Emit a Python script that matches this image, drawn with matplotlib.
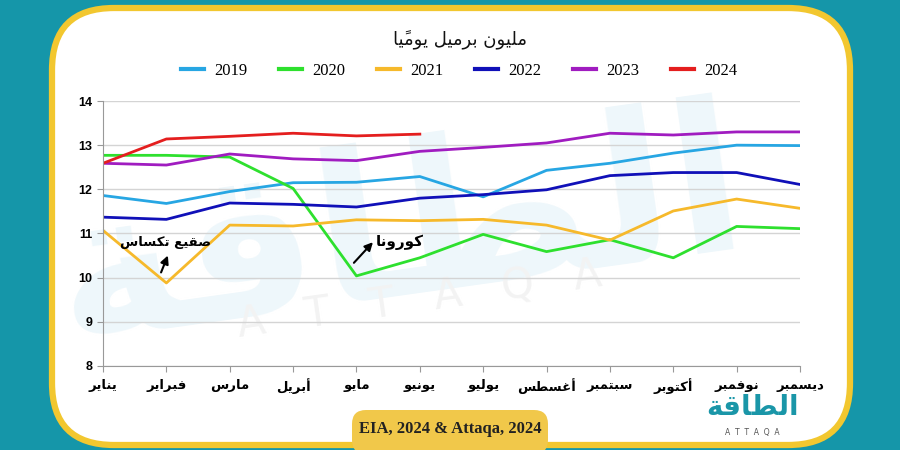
import matplotlib
matplotlib.use("Agg")
import matplotlib.pyplot as plt
from matplotlib.patches import FancyBboxPatch

# data (million barrels per day)
months = ["يناير", "فبراير", "مارس", "أبريل", "مايو", "يونيو",
          "يوليو", "أغسطس", "سبتمبر", "أكتوبر", "نوفمبر", "ديسمبر"]
years = ["2019", "2020", "2021", "2022", "2023", "2024"]
y2019 = [11.86, 11.68, 11.95, 12.15, 12.16, 12.29, 11.83, 12.43, 12.59, 12.82, 13.00, 12.99]
y2020 = [12.77, 12.77, 12.73, 12.02, 10.04, 10.45, 10.98, 10.59, 10.86, 10.45, 11.16, 11.11]
y2021 = [11.07, 9.88, 11.19, 11.17, 11.31, 11.29, 11.32, 11.19, 10.85, 11.51, 11.78, 11.57]
y2022 = [11.37, 11.32, 11.69, 11.66, 11.60, 11.80, 11.88, 11.99, 12.31, 12.38, 12.38, 12.11]
y2023 = [12.59, 12.55, 12.80, 12.69, 12.65, 12.86, 12.95, 13.05, 13.27, 13.23, 13.30, 13.30]
y2024 = [12.59, 13.14, 13.20, 13.27, 13.21, 13.25]
series = [y2019, y2020, y2021, y2022, y2023, y2024]
colors = ["#27a6e3", "#2ee02e", "#f6b92b", "#1010b8", "#a01cc0", "#e41e1e"]

title = "مليون برميل يوميًا"
note_texas = "صقيع تكساس"
note_corona = "كورونا"
source = "EIA, 2024 & Attaqa, 2024"

# --- tiny arabic shaper (matplotlib has no complex text layout) ---
BASE = {'ء': 0xFE80, 'آ': 0xFE81, 'أ': 0xFE83, 'ؤ': 0xFE85, 'إ': 0xFE87, 'ئ': 0xFE89,
        'ا': 0xFE8D, 'ب': 0xFE8F, 'ة': 0xFE93, 'ت': 0xFE95, 'ث': 0xFE99, 'ج': 0xFE9D,
        'ح': 0xFEA1, 'خ': 0xFEA5, 'د': 0xFEA9, 'ذ': 0xFEAB, 'ر': 0xFEAD, 'ز': 0xFEAF,
        'س': 0xFEB1, 'ش': 0xFEB5, 'ص': 0xFEB9, 'ض': 0xFEBD, 'ط': 0xFEC1, 'ظ': 0xFEC5,
        'ع': 0xFEC9, 'غ': 0xFECD, 'ف': 0xFED1, 'ق': 0xFED5, 'ك': 0xFED9, 'ل': 0xFEDD,
        'م': 0xFEE1, 'ن': 0xFEE5, 'ه': 0xFEE9, 'و': 0xFEED, 'ى': 0xFEEF, 'ي': 0xFEF1}
DUAL = "بتثجحخسشصضطظعغفقكلمنهيئ"


def is_mark(c):
    return '\u064B' <= c <= '\u0652'


def ar(text):
    chars = list(text)
    out = []
    for i, c in enumerate(chars):
        if c not in BASE:
            out.append(c)
            continue
        j = i - 1
        while j >= 0 and is_mark(chars[j]):
            j -= 1
        k = i + 1
        while k < len(chars) and is_mark(chars[k]):
            k += 1
        prev = j >= 0 and chars[j] in DUAL
        nxt = c in DUAL and k < len(chars) and chars[k] in BASE and chars[k] != 'ء'
        b = BASE[c]
        if prev and nxt:
            out.append(chr(b + 3))
        elif prev:
            out.append(chr(b + 1))
        elif nxt:
            out.append(chr(b + 2))
        else:
            out.append(chr(b))
    clusters = []
    for c in out:
        if is_mark(c) and clusters:
            clusters[-1] += c
        else:
            clusters.append(c)
    return "".join(reversed(clusters))


fig = plt.figure(figsize=(9, 4.5), dpi=100)
fig.patch.set_facecolor("#1596a9")

# background card
bg = fig.add_axes([0, 0, 1, 1], zorder=0)
bg.set_xlim(0, 900)
bg.set_ylim(450, 0)
bg.axis("off")
bg.add_patch(FancyBboxPatch((52, 8), 798, 437, boxstyle="round,pad=0,rounding_size=62",
                            fc="white", ec="#f2c72f", lw=4.5))
# faint watermark
bg.text(400, 235, ar("الطاقة"), ha="center", va="center", fontsize=150, fontweight="bold",
        family="DejaVu Sans", color="#eef7fb", rotation=8)
bg.text(420, 300, "A   T   T   A   Q   A", ha="center", va="center", fontsize=30,
        color="#f3f3f3", rotation=8)
bg.add_patch(FancyBboxPatch((352, 410), 196, 44, boxstyle="round,pad=0,rounding_size=14",
                            fc="#f1c84a", ec="none"))
bg.text(450, 429, source, ha="center", va="center", fontsize=12, fontweight="bold",
        family="Liberation Serif", color="#222222")
bg.text(752, 407, ar("الطاقة"), ha="center", va="center", fontsize=20, fontweight="bold",
        family="DejaVu Sans", color="#1a96a8")
bg.text(752, 432, "A  T  T  A  Q  A", ha="center", va="center", fontsize=5.5,
        color="#555555")
bg.text(460, 40, ar(title), ha="center", va="center", fontsize=13,
        family="DejaVu Sans", color="#111111")

ax = fig.add_axes([103 / 900, 84 / 450, 697 / 900, 265 / 450], zorder=1)
ax.set_facecolor("none")

x = list(range(len(months)))
lines = []
for yr, vals, col in zip(years, series, colors):
    ln, = ax.plot(x[:len(vals)], vals, color=col, lw=2, label=yr)
    lines.append(ln)

ax.set_xlim(0, 11)
ax.set_ylim(8, 14)
ax.set_yticks(range(8, 15))
ax.set_xticks(x)
ax.set_xticklabels([ar(m) for m in months], fontsize=9.5, fontweight="bold",
                   family="DejaVu Sans")
for lab in ax.get_yticklabels():
    lab.set_fontweight("bold")
    lab.set_fontsize(9)
    lab.set_family("Liberation Sans")
ax.grid(axis="y", color="#d4d4d4", lw=1)
ax.set_axisbelow(True)
for s in ["top", "right"]:
    ax.spines[s].set_visible(False)
for s in ["left", "bottom"]:
    ax.spines[s].set_color("#999999")
ax.tick_params(axis="both", colors="#999999", labelcolor="black", length=4)
ax.tick_params(axis="x", pad=5)

ax.annotate("", xy=(1.04, 10.56), xytext=(0.9, 10.06),
            arrowprops=dict(arrowstyle="-|>", color="black", lw=1.5, mutation_scale=12))
ax.text(0.98, 10.8, ar(note_texas), ha="center", va="center", fontsize=9.5,
        fontweight="bold", family="DejaVu Sans")
ax.annotate("", xy=(4.29, 10.85), xytext=(3.93, 10.29),
            arrowprops=dict(arrowstyle="-|>", color="black", lw=1.5, mutation_scale=12))
ax.text(4.68, 10.8, ar(note_corona), ha="center", va="center", fontsize=11,
        fontweight="bold", family="DejaVu Sans")

fig.legend(lines, years, loc="center", bbox_to_anchor=(0.51, 0.842), ncol=6,
           frameon=False, handlelength=1.4, handletextpad=0.6, columnspacing=1.9,
           prop={"family": "Liberation Serif", "size": 12})
for ln in fig.legends[0].get_lines():
    ln.set_linewidth(3)

fig.savefig("out.png", dpi=100, facecolor=fig.get_facecolor())
